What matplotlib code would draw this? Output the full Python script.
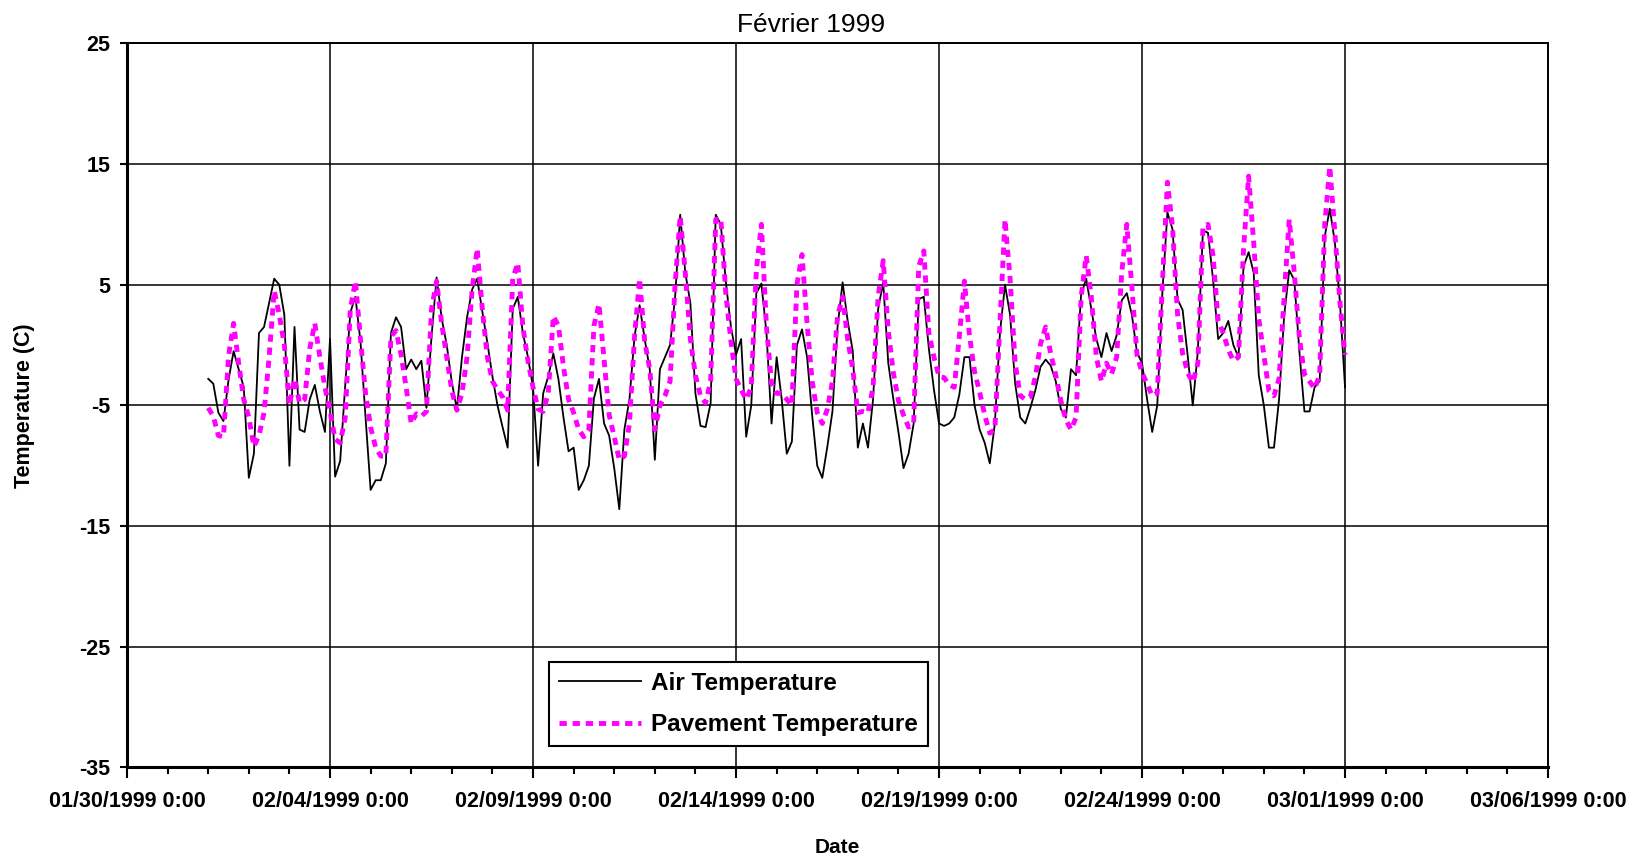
import numpy as np
import pandas as pd
import matplotlib
matplotlib.use("Agg")
import matplotlib.pyplot as plt
import matplotlib.dates as mdates
from matplotlib.ticker import FuncFormatter, FixedLocator

plt.rcParams['font.family'] = ['Liberation Sans', 'DejaVu Sans']
plt.rcParams['axes.unicode_minus'] = False

# readings every 3 hours, 02/01/1999 0:00 .. 03/01/1999 0:00
start = '1999-02-01 00:00'
step = '3h'

air_temp = [
    # Feb 1 - Feb 3
    -2.8, -3.2, -5.6, -6.3, -2.9, -0.5, -2.0, -3.5,
    -11.0, -9.0, 1.0, 1.5, 3.5, 5.5, 5.0, 2.5,
    -10.0, 1.5, -7.0, -7.2, -4.5, -3.3, -5.5, -7.2,
    # Feb 4 - Feb 8
    0.5, -10.9, -9.6, -3.3, 2.7, 4.0, 0.3, -6.0,
    -12.0, -11.2, -11.2, -9.8, 1.0, 2.3, 1.5, -2.0,
    -1.2, -2.0, -1.3, -5.2, 0.7, 5.6, 2.2, 0.0,
    -3.1, -5.3, -1.0, 2.3, 4.6, 5.5, 2.8, 0.2,
    -2.6, -5.0, -6.8, -8.5, 3.0, 4.0, 1.0, -1.0,
    # Feb 9 - Feb 13
    -3.5, -10.0, -4.0, -2.6, -0.7, -2.8, -6.0, -8.8,
    -8.5, -12.0, -11.2, -10.0, -4.4, -2.8, -6.5, -7.5,
    -10.2, -13.6, -7.0, -4.5, 0.7, 3.3, 0.5, -2.0,
    -9.5, -2.0, -1.0, 0.0, 4.0, 10.8, 6.0, 3.5,
    -4.0, -6.7, -6.8, -4.8, 10.8, 10.0, 5.2, 1.5,
    # Feb 14 - Feb 18
    -0.8, 0.5, -7.6, -5.0, 4.3, 5.1, 1.0, -6.5,
    -1.0, -4.5, -9.0, -8.0, 0.0, 1.3, -1.0, -5.8,
    -10.0, -11.0, -8.4, -5.5, 1.5, 5.2, 2.0, -0.5,
    -8.5, -6.5, -8.5, -4.5, 3.0, 5.2, -1.5, -4.5,
    -7.2, -10.2, -9.0, -6.5, 3.8, 4.0, -0.3, -3.7,
    # Feb 19 - Feb 23
    -6.5, -6.7, -6.5, -6.0, -4.1, -1.0, -1.0, -5.0,
    -7.0, -8.1, -9.8, -6.5, 1.0, 5.0, 2.5, -3.2,
    -6.0, -6.5, -5.2, -3.7, -1.8, -1.2, -1.7, -3.0,
    -5.3, -6.0, -2.0, -2.5, 4.2, 5.5, 3.0, 0.5,
    -1.0, 1.0, -0.5, 0.8, 3.7, 4.3, 2.5, -0.6,
    # Feb 24 - Mar 1
    -1.5, -4.5, -7.2, -5.0, 4.3, 11.0, 9.6, 3.8,
    2.9, -0.9, -5.0, -0.5, 9.5, 9.3, 5.4, 0.5,
    1.0, 2.0, 0.0, -1.0, 6.5, 7.7, 6.0, -2.5,
    -5.0, -8.5, -8.5, -4.5, 2.4, 6.2, 5.4, -0.5,
    -5.5, -5.5, -3.5, -3.0, 9.0, 11.3, 8.5, 3.5,
    -3.5,
]

pavement_temp = [
    # Feb 1 - Feb 3
    -5.2, -5.9, -7.5, -7.6, -0.9, 1.8, -1.5, -4.5,
    -6.0, -8.4, -7.5, -5.6, -1.0, 4.5, 2.5, 0.0,
    -5.0, -2.8, -4.8, -4.5, -0.3, 1.8, -1.0, -3.5,
    # Feb 4 - Feb 8
    -5.5, -7.8, -8.1, -6.0, 3.0, 5.3, 0.5, -4.0,
    -6.8, -8.5, -9.2, -9.2, 0.7, 1.2, -0.8, -3.5,
    -6.5, -5.7, -5.9, -5.5, 3.0, 5.3, 1.8, -1.0,
    -3.8, -5.4, -4.0, -1.0, 4.6, 8.0, 3.0, -1.0,
    -3.0, -3.7, -4.3, -5.4, 5.5, 6.8, 1.5, -1.3,
    # Feb 9 - Feb 13
    -3.5, -5.3, -5.5, -4.0, 2.4, 1.6, -1.8, -4.5,
    -5.6, -7.0, -7.6, -7.0, 1.6, 3.4, -1.2, -5.8,
    -7.6, -9.5, -9.2, -6.5, 0.7, 5.5, 0.3, -2.0,
    -7.0, -5.0, -4.2, -3.0, 5.0, 10.7, 6.0, 0.5,
    -2.5, -4.2, -4.8, -3.0, 10.4, 10.5, 4.2, 0.3,
    # Feb 14 - Feb 18
    -2.8, -3.7, -4.5, -3.5, 6.2, 10.0, 1.5, -3.2,
    -4.0, -4.0, -4.5, -5.0, 5.0, 7.5, 1.8, -3.0,
    -5.6, -6.5, -5.3, -3.0, 2.4, 4.0, 0.5, -2.0,
    -5.6, -5.5, -5.6, -3.5, 4.0, 7.0, 1.2, -2.3,
    -4.6, -5.8, -6.8, -6.5, 6.5, 7.8, 1.0, -1.0,
    # Feb 19 - Feb 23
    -2.6, -2.7, -3.3, -3.5, 0.7, 5.3, 0.8, -2.2,
    -3.9, -5.8, -7.3, -7.0, 1.8, 10.4, 5.5, -1.5,
    -4.2, -4.5, -4.3, -2.6, 0.1, 1.5, -0.7, -2.5,
    -4.6, -6.2, -7.0, -6.0, 4.0, 7.4, 4.0, -1.0,
    -3.0, -1.5, -2.4, -1.0, 6.0, 10.0, 4.8, -0.8,
    # Feb 24 - Mar 1
    -2.3, -3.2, -4.2, -4.0, 5.0, 13.5, 9.8, 2.5,
    -0.7, -2.3, -3.1, -1.5, 9.8, 10.0, 7.4, 2.0,
    1.0, -0.4, -1.3, -1.0, 7.9, 14.0, 8.5, 2.2,
    -0.8, -3.8, -4.2, -2.8, 4.0, 10.4, 6.0, 0.6,
    -2.4, -3.0, -3.6, -2.5, 10.0, 14.8, 9.3, 3.5,
    -0.8,
]

times = pd.date_range(start, periods=len(air_temp), freq=step)

x_major = pd.date_range('1999-01-30', '1999-03-06', freq='5D')
x_minor = pd.date_range('1999-01-30', '1999-03-06', freq='D')
y_ticks = [-35, -25, -15, -5, 5, 15, 25]

fig = plt.figure(figsize=(16.39, 8.58), dpi=100)
ax = fig.add_axes([0.0775, 0.1055, 0.867, 0.844])

ax.plot(times, air_temp, color='black', linewidth=1.3, label='Air Temperature', zorder=3)
ax.plot(times, pavement_temp, color='#FF00FF', linewidth=3.5,
        linestyle=(0, (1.5, 1.2)), label='Pavement Temperature', zorder=4)

ax.set_xlim(x_major[0], x_major[-1])
ax.set_ylim(-35, 25)

ax.xaxis.set_major_locator(FixedLocator(mdates.date2num(x_major)))
ax.xaxis.set_minor_locator(FixedLocator(mdates.date2num(x_minor)))
ax.xaxis.set_major_formatter(FuncFormatter(
    lambda v, p: mdates.num2date(v).strftime('%m/%d/%Y') + ' 0:00'))
ax.set_yticks(y_ticks)

ax.grid(True, which='major', color='black', linewidth=1.1)
ax.tick_params(axis='x', which='major', length=8, width=1.5, pad=9,
               labelsize=15.5)
ax.tick_params(axis='x', which='minor', length=5, width=1.5)
ax.tick_params(axis='y', which='major', length=5, width=1.5, pad=7,
               labelsize=15.5)
for lab in ax.get_xticklabels() + ax.get_yticklabels():
    lab.set_fontweight('bold')

for side in ['left', 'bottom']:
    ax.spines[side].set_linewidth(2.2)
for side in ['top', 'right']:
    ax.spines[side].set_linewidth(1.4)

ax.set_xlabel('Date', fontsize=15, fontweight='bold', labelpad=19)
ax.set_ylabel('Temperature (C)', fontsize=15.5, fontweight='bold', labelpad=32)

fig.text(0.495, 0.971, 'Février 1999', fontsize=19, ha='center', va='center')

leg = ax.legend(loc='lower left', bbox_to_anchor=(0.297, 0.03), borderaxespad=0,
                fancybox=False, edgecolor='black', framealpha=1,
                prop={'weight': 'bold', 'size': 17.5}, handlelength=3.4,
                handletextpad=0.4, labelspacing=0.75, borderpad=0.4)
leg.get_frame().set_linewidth(1.5)

fig.savefig('out.png', dpi=100)
